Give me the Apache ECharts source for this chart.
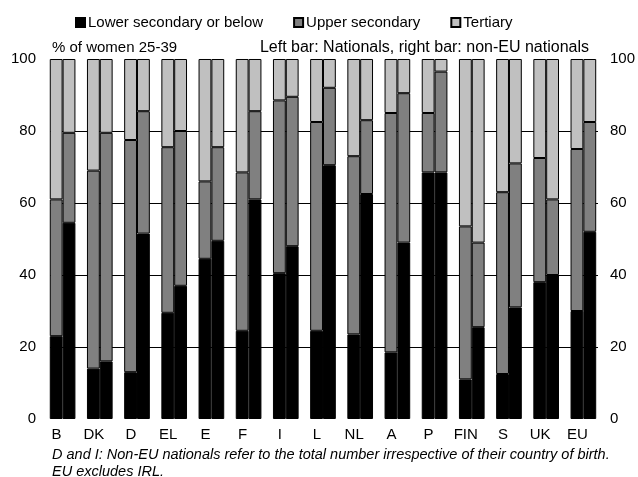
<!DOCTYPE html>
<html>
<head>
<meta charset="utf-8">
<script src="https://cdn.jsdelivr.net/npm/echarts@6/dist/echarts.min.js"></script>
<style>html,body{margin:0;padding:0;background:#fff}#c{width:638px;height:477px}</style>
</head>
<body>
<div id="c"></div>
<script>
const categories = ['B','DK','D','EL','E','F','I','L','NL','A','P','FIN','S','UK','EU'];
const seriesNames = ['Lower secondary or below','Upper secondary','Tertiary'];
// Left bar: Nationals
const natLower    = [23, 14, 13, 29.5, 44.5, 24.5, 40.5, 24.5, 23.5, 18.5, 68.5, 11, 12.5, 38, 30];
const natUpper    = [38, 55, 64.5, 46, 21.5, 44, 48, 58, 49.5, 66.5, 16.5, 42.5, 50.5, 34.5, 45];
const natTertiary = [39, 31, 22.5, 24.5, 34, 31.5, 11.5, 17.5, 27, 15, 15, 46.5, 37, 27.5, 25];
// Right bar: non-EU nationals
const nonLower    = [54.5, 16, 51.5, 37, 49.5, 61, 48, 70.5, 62.5, 49, 68.5, 25.5, 31, 40, 52];
const nonUpper    = [25, 63.5, 34, 43, 26, 24.5, 41.5, 21.5, 20.5, 41.5, 28, 23.5, 40, 21, 30.5];
const nonTertiary = [20.5, 20.5, 14.5, 20, 24.5, 14.5, 10.5, 8, 17, 9.5, 3.5, 51, 29, 39, 17.5];
const yTicks = {min: 0, max: 100, interval: 20};

const FONT = 'Liberation Sans, Arial, sans-serif';
const colors = ['#000000', '#808080', '#c0c0c0'];

const chart = echarts.init(document.getElementById('c'), null, {renderer: 'canvas'});

function bar(name, data, stack, color) {
  return {
    name: name, type: 'bar', stack: stack, data: data,
    xAxisIndex: 0, yAxisIndex: 0,
    barGap: '0%', barCategoryGap: '31%',
    itemStyle: {color: color, borderColor: '#000', borderWidth: 1},
    emphasis: {disabled: true}, animation: false
  };
}

const option = {
  animation: false,
  textStyle: {fontFamily: FONT},
  grid: [
    {left: 44, right: 33, top: 59, height: 360},
    {left: 50, right: 40, top: 59, height: 360}
  ],
  legend: {
    data: seriesNames,
    left: 70, top: 10,
    itemWidth: 9, itemHeight: 9, itemGap: 30,
    icon: 'rect',
    textStyle: {fontFamily: FONT, fontSize: 15, color: '#000', padding: [0, 0, 0, -2]},
    selectedMode: false
  },
  xAxis: [
    {type: 'category', data: categories, gridIndex: 0,
     axisLine: {show: false}, axisTick: {show: false}, splitLine: {show: false},
     axisLabel: {fontFamily: FONT, fontSize: 15, color: '#000', margin: 8, padding: [0, 12, 0, 0]}},
    {type: 'value', gridIndex: 1, min: 0, max: 1, show: false}
  ],
  yAxis: [
    {type: 'value', gridIndex: 0, position: 'left', min: yTicks.min, max: yTicks.max, interval: yTicks.interval,
     axisLine: {show: false}, axisTick: {show: false}, splitLine: {show: false},
     axisLabel: {fontFamily: FONT, fontSize: 15, color: '#000', margin: 8}},
    {type: 'value', gridIndex: 0, position: 'right', min: yTicks.min, max: yTicks.max, interval: yTicks.interval,
     axisLine: {show: false}, axisTick: {show: false}, splitLine: {show: false},
     axisLabel: {fontFamily: FONT, fontSize: 15, color: '#000', margin: 8}},
    {type: 'value', gridIndex: 1, min: yTicks.min, max: yTicks.max, interval: yTicks.interval,
     axisLine: {show: false}, axisTick: {show: false}, axisLabel: {show: false},
     splitLine: {show: true, showMinLine: false, showMaxLine: false, lineStyle: {color: '#000', width: 1}}}
  ],
  series: [
    bar(seriesNames[0], natLower, 'nat', colors[0]),
    bar(seriesNames[1], natUpper, 'nat', colors[1]),
    bar(seriesNames[2], natTertiary, 'nat', colors[2]),
    bar(seriesNames[0], nonLower, 'non', colors[0]),
    bar(seriesNames[1], nonUpper, 'non', colors[1]),
    bar(seriesNames[2], nonTertiary, 'non', colors[2])
  ],
  graphic: [
    {type: 'text', left: 52, top: 40, style: {text: '% of women 25-39', font: '15px ' + FONT, fill: '#000'}},
    {type: 'text', right: 49, top: 40, style: {text: 'Left bar: Nationals, right bar: non-EU nationals', font: '16px ' + FONT, fill: '#000'}},
    {type: 'text', left: 52, top: 447, style: {text: 'D and I: Non-EU nationals refer to the total number irrespective of their country of birth.', font: 'italic 14.5px ' + FONT, fill: '#000'}},
    {type: 'text', left: 52, top: 464, style: {text: 'EU excludes IRL.', font: 'italic 14.5px ' + FONT, fill: '#000'}}
  ]
};
chart.setOption(option);
</script>
</body>
</html>
